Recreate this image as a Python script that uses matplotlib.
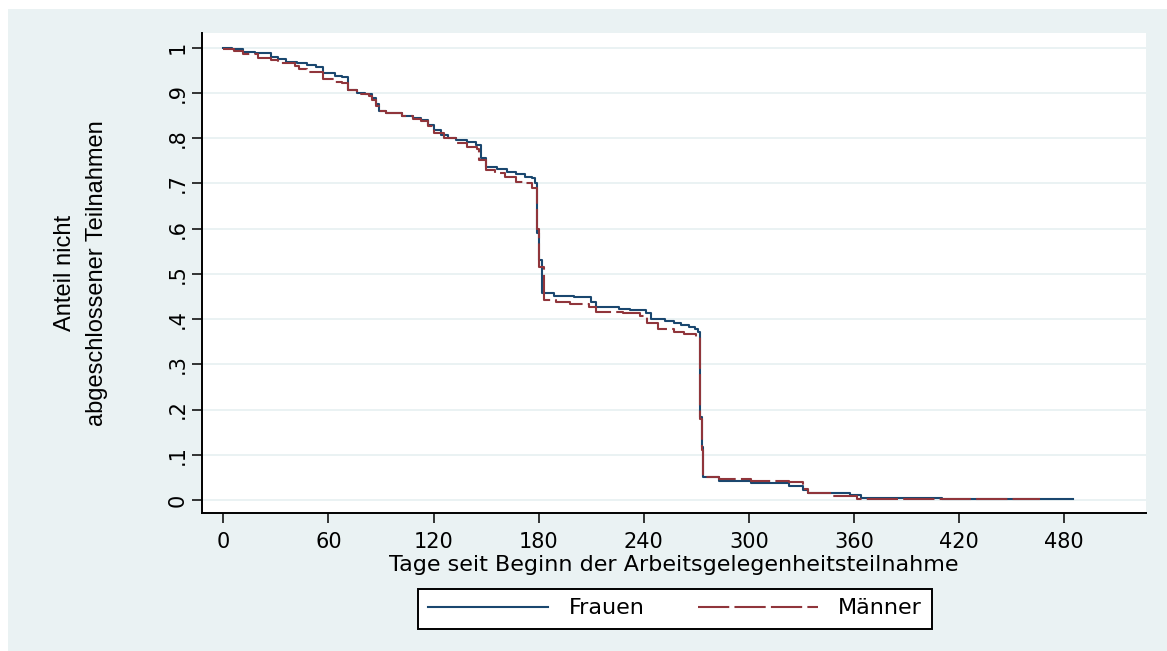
import matplotlib
matplotlib.use("Agg")
import matplotlib.pyplot as plt
from matplotlib.patches import Rectangle

# ---------------- data ----------------
days_frauen = [0, 5, 11, 18, 27, 31, 36, 42, 48, 53, 57, 64, 68, 71, 76, 81, 85, 87, 89,
               93, 102, 108, 113, 117, 120, 124, 128, 133, 139, 144, 147, 150, 156, 162,
               167, 172, 176, 178, 179, 180, 182, 189, 200, 210, 213, 226, 232, 241, 244,
               252, 257, 261, 266, 269, 271, 272, 273, 274, 283, 301, 323, 331, 334, 358,
               364, 410, 443, 485]
surv_frauen = [1.000, 0.997, 0.991, 0.988, 0.980, 0.974, 0.969, 0.965, 0.961, 0.958, 0.943,
               0.938, 0.934, 0.906, 0.900, 0.897, 0.888, 0.875, 0.860, 0.856, 0.849, 0.844,
               0.840, 0.830, 0.818, 0.807, 0.800, 0.796, 0.792, 0.785, 0.755, 0.737, 0.731,
               0.726, 0.721, 0.715, 0.711, 0.700, 0.590, 0.531, 0.457, 0.452, 0.448, 0.438,
               0.427, 0.422, 0.419, 0.414, 0.400, 0.395, 0.391, 0.386, 0.383, 0.377, 0.372,
               0.184, 0.118, 0.050, 0.042, 0.037, 0.032, 0.022, 0.015, 0.011, 0.005, 0.003,
               0.0015, 0.0015]

days_maenner = [0, 6, 11, 20, 27, 31, 41, 43, 48, 57, 63, 68, 71, 76, 83, 85, 87, 89, 93,
                102, 108, 113, 117, 120, 126, 133, 139, 145, 146, 150, 155, 161, 167, 172,
                176, 179, 180, 183, 190, 198, 209, 213, 228, 238, 242, 248, 257, 263, 270,
                272, 273, 274, 283, 301, 323, 331, 334, 348, 362, 400, 466]
surv_maenner = [0.997, 0.993, 0.987, 0.978, 0.973, 0.965, 0.960, 0.952, 0.947, 0.930, 0.923,
                0.921, 0.906, 0.897, 0.892, 0.884, 0.872, 0.860, 0.856, 0.848, 0.843, 0.838,
                0.826, 0.811, 0.800, 0.790, 0.781, 0.777, 0.752, 0.730, 0.722, 0.715, 0.704,
                0.700, 0.689, 0.600, 0.516, 0.442, 0.438, 0.433, 0.427, 0.416, 0.413, 0.407,
                0.391, 0.377, 0.372, 0.367, 0.360, 0.180, 0.110, 0.050, 0.046, 0.043, 0.0405,
                0.025, 0.015, 0.0096, 0.002, 0.0015, 0.0015]

x_ticks = [0, 60, 120, 180, 240, 300, 360, 420, 480]
y_ticks = [0, 0.1, 0.2, 0.3, 0.4, 0.5, 0.6, 0.7, 0.8, 0.9, 1.0]
y_ticklabels = ["0", ".1", ".2", ".3", ".4", ".5", ".6", ".7", ".8", ".9", "1"]

series_labels = ["Frauen", "Männer"]
xlabel = "Tage seit Beginn der Arbeitsgelegenheitsteilnahme"
ylabel = "Anteil nicht\nabgeschlossener Teilnahmen"

# ---------------- style ----------------
BG = "#EAF2F3"
NAVY = "#1A476F"
MAROON = "#90353B"
W, H = 1167, 651

plt.rcParams["font.family"] = ["DejaVu Sans"]

fig = plt.figure(figsize=(W / 100, H / 100), dpi=100, facecolor="white")
fig.patches.append(Rectangle((8 / W, 0), 1, (H - 9) / H, transform=fig.transFigure,
                             facecolor=BG, edgecolor="none", zorder=-10))

left, right, top, bottom = 202, 1146, 32.7, 513.3
ax = fig.add_axes([left / W, 1 - bottom / H, (right - left) / W, (bottom - top) / H])
ax.set_facecolor("white")

ax.plot(days_frauen, surv_frauen, drawstyle="steps-post", color=NAVY, lw=1.5,
        label=series_labels[0], zorder=3)
ax.plot(days_maenner, surv_maenner, drawstyle="steps-post", color=MAROON, lw=1.5,
        dashes=(15, 2.5), label=series_labels[1], zorder=4)

ax.set_xlim(-12.2, 526.7)
ax.set_ylim(-0.0294, 1.033)

ax.set_xticks(x_ticks)
ax.set_xticklabels([str(t) for t in x_ticks])
ax.set_yticks(y_ticks)
ax.set_yticklabels(y_ticklabels, rotation=90, va="center")

ax.grid(axis="y", color=BG, lw=1.4)
ax.set_axisbelow(True)

for s in ["top", "right"]:
    ax.spines[s].set_visible(False)
for s in ["left", "bottom"]:
    ax.spines[s].set_linewidth(1.4)
    ax.spines[s].set_color("black")

ax.tick_params(axis="both", direction="out", length=7.2, width=1.1, color="black",
               labelsize=15, labelcolor="black")
ax.tick_params(axis="x", pad=6)
ax.tick_params(axis="y", pad=3)

ax.set_xlabel(xlabel, fontsize=16, va="center")
ax.xaxis.set_label_coords(0.5, (bottom - 565) / (bottom - top))

ax.set_ylabel(ylabel, fontsize=17, family=["Liberation Sans", "DejaVu Sans"],
              linespacing=1.55, va="center", ha="center", multialignment="center")
ax.yaxis.set_label_coords((81 - left) / (right - left), 0.5)

leg = ax.legend(loc="center", bbox_to_anchor=(675 / W, 1 - 608.5 / H),
                bbox_transform=fig.transFigure, ncol=2, fontsize=16,
                frameon=True, fancybox=False, edgecolor="black", facecolor="white",
                framealpha=1, handlelength=5.4, handletextpad=0.9, columnspacing=2.4,
                borderpad=0.45, borderaxespad=0)
leg.get_frame().set_linewidth(1.4)

fig.savefig("out.png", dpi=100, facecolor=fig.get_facecolor())
